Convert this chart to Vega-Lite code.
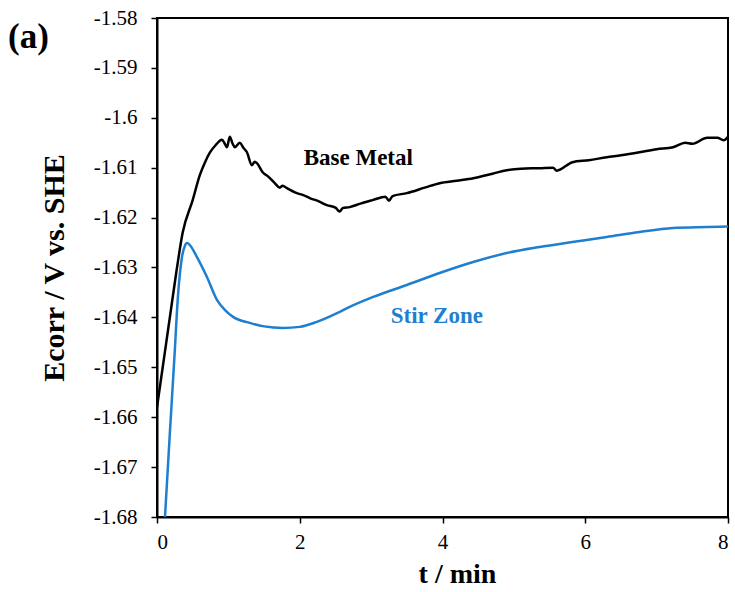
{
  "$schema": "https://vega.github.io/schema/vega-lite/v6.json",
  "autosize": "none",
  "width": 571,
  "height": 499,
  "padding": {"left": 157, "top": 18, "right": 7, "bottom": 75},
  "background": "white",
  "title": {"text": "(a)", "anchor": "start", "frame": "group", "orient": "top", "dx": -149, "dy": 52, "font": "'Liberation Serif', 'Times New Roman', serif", "fontSize": 35, "fontWeight": "bold", "color": "black"},
  "config": {
    "font": "'Liberation Serif', 'Times New Roman', serif",
    "view": {"stroke": "black", "strokeWidth": 2},
    "axis": {"labelFont": "'Liberation Serif', 'Times New Roman', serif", "labelFontSize": 21, "labelColor": "black", "titleFont": "'Liberation Serif', 'Times New Roman', serif", "titleFontWeight": "bold", "titleFontSize": 28, "titleColor": "black", "domainColor": "black", "domainWidth": 2, "tickColor": "black", "tickWidth": 1.5, "tickSize": 6, "grid": false}
  },
  "datasets": {
    "curves": [
      {"t": 0, "E": -1.658, "series": "Base Metal"},
      {"t": 0.04, "E": -1.654, "series": "Base Metal"},
      {"t": 0.08, "E": -1.650, "series": "Base Metal"},
      {"t": 0.13, "E": -1.645, "series": "Base Metal"},
      {"t": 0.18, "E": -1.640, "series": "Base Metal"},
      {"t": 0.27, "E": -1.631, "series": "Base Metal"},
      {"t": 0.36, "E": -1.623, "series": "Base Metal"},
      {"t": 0.50, "E": -1.6165, "series": "Base Metal"},
      {"t": 0.60, "E": -1.6115, "series": "Base Metal"},
      {"t": 0.67, "E": -1.609, "series": "Base Metal"},
      {"t": 0.74, "E": -1.607, "series": "Base Metal"},
      {"t": 0.82, "E": -1.6055, "series": "Base Metal"},
      {"t": 0.91, "E": -1.6044, "series": "Base Metal"},
      {"t": 0.95, "E": -1.6052, "series": "Base Metal"},
      {"t": 0.98, "E": -1.6059, "series": "Base Metal"},
      {"t": 1.02, "E": -1.6038, "series": "Base Metal"},
      {"t": 1.06, "E": -1.6052, "series": "Base Metal"},
      {"t": 1.09, "E": -1.6059, "series": "Base Metal"},
      {"t": 1.16, "E": -1.605, "series": "Base Metal"},
      {"t": 1.21, "E": -1.606, "series": "Base Metal"},
      {"t": 1.26, "E": -1.6069, "series": "Base Metal"},
      {"t": 1.33, "E": -1.6095, "series": "Base Metal"},
      {"t": 1.37, "E": -1.6088, "series": "Base Metal"},
      {"t": 1.40, "E": -1.6091, "series": "Base Metal"},
      {"t": 1.48, "E": -1.6109, "series": "Base Metal"},
      {"t": 1.56, "E": -1.6118, "series": "Base Metal"},
      {"t": 1.65, "E": -1.6131, "series": "Base Metal"},
      {"t": 1.72, "E": -1.614, "series": "Base Metal"},
      {"t": 1.76, "E": -1.6136, "series": "Base Metal"},
      {"t": 1.82, "E": -1.6141, "series": "Base Metal"},
      {"t": 1.96, "E": -1.6151, "series": "Base Metal"},
      {"t": 2.05, "E": -1.6155, "series": "Base Metal"},
      {"t": 2.14, "E": -1.6161, "series": "Base Metal"},
      {"t": 2.26, "E": -1.6167, "series": "Base Metal"},
      {"t": 2.38, "E": -1.6175, "series": "Base Metal"},
      {"t": 2.50, "E": -1.618, "series": "Base Metal"},
      {"t": 2.56, "E": -1.6188, "series": "Base Metal"},
      {"t": 2.60, "E": -1.6181, "series": "Base Metal"},
      {"t": 2.70, "E": -1.6179, "series": "Base Metal"},
      {"t": 2.85, "E": -1.6172, "series": "Base Metal"},
      {"t": 3.02, "E": -1.6165, "series": "Base Metal"},
      {"t": 3.20, "E": -1.6158, "series": "Base Metal"},
      {"t": 3.25, "E": -1.6166, "series": "Base Metal"},
      {"t": 3.30, "E": -1.6157, "series": "Base Metal"},
      {"t": 3.50, "E": -1.6151, "series": "Base Metal"},
      {"t": 3.75, "E": -1.614, "series": "Base Metal"},
      {"t": 3.96, "E": -1.6131, "series": "Base Metal"},
      {"t": 4.20, "E": -1.6126, "series": "Base Metal"},
      {"t": 4.43, "E": -1.6121, "series": "Base Metal"},
      {"t": 4.70, "E": -1.6112, "series": "Base Metal"},
      {"t": 4.90, "E": -1.6105, "series": "Base Metal"},
      {"t": 5.10, "E": -1.6102, "series": "Base Metal"},
      {"t": 5.36, "E": -1.6101, "series": "Base Metal"},
      {"t": 5.55, "E": -1.61, "series": "Base Metal"},
      {"t": 5.60, "E": -1.6106, "series": "Base Metal"},
      {"t": 5.82, "E": -1.6089, "series": "Base Metal"},
      {"t": 6.05, "E": -1.6085, "series": "Base Metal"},
      {"t": 6.30, "E": -1.6079, "series": "Base Metal"},
      {"t": 6.50, "E": -1.6075, "series": "Base Metal"},
      {"t": 6.76, "E": -1.6069, "series": "Base Metal"},
      {"t": 7.00, "E": -1.6063, "series": "Base Metal"},
      {"t": 7.23, "E": -1.6059, "series": "Base Metal"},
      {"t": 7.40, "E": -1.605, "series": "Base Metal"},
      {"t": 7.50, "E": -1.6052, "series": "Base Metal"},
      {"t": 7.71, "E": -1.604, "series": "Base Metal"},
      {"t": 7.85, "E": -1.604, "series": "Base Metal"},
      {"t": 7.94, "E": -1.6045, "series": "Base Metal"},
      {"t": 8.0, "E": -1.6038, "series": "Base Metal"},
      {"t": 0.112, "E": -1.68, "series": "Stir Zone"},
      {"t": 0.18, "E": -1.6632, "series": "Stir Zone"},
      {"t": 0.25, "E": -1.6465, "series": "Stir Zone"},
      {"t": 0.29, "E": -1.6365, "series": "Stir Zone"},
      {"t": 0.35, "E": -1.6279, "series": "Stir Zone"},
      {"t": 0.39, "E": -1.6257, "series": "Stir Zone"},
      {"t": 0.42, "E": -1.6251, "series": "Stir Zone"},
      {"t": 0.46, "E": -1.6255, "series": "Stir Zone"},
      {"t": 0.56, "E": -1.6279, "series": "Stir Zone"},
      {"t": 0.70, "E": -1.6319, "series": "Stir Zone"},
      {"t": 0.84, "E": -1.6365, "series": "Stir Zone"},
      {"t": 0.95, "E": -1.6385, "series": "Stir Zone"},
      {"t": 1.065, "E": -1.6399, "series": "Stir Zone"},
      {"t": 1.30, "E": -1.6411, "series": "Stir Zone"},
      {"t": 1.50, "E": -1.6418, "series": "Stir Zone"},
      {"t": 1.765, "E": -1.6421, "series": "Stir Zone"},
      {"t": 2.00, "E": -1.6419, "series": "Stir Zone"},
      {"t": 2.24, "E": -1.6409, "series": "Stir Zone"},
      {"t": 2.56, "E": -1.6389, "series": "Stir Zone"},
      {"t": 2.70, "E": -1.6379, "series": "Stir Zone"},
      {"t": 3.03, "E": -1.6359, "series": "Stir Zone"},
      {"t": 3.50, "E": -1.6335, "series": "Stir Zone"},
      {"t": 3.96, "E": -1.6311, "series": "Stir Zone"},
      {"t": 4.43, "E": -1.6289, "series": "Stir Zone"},
      {"t": 4.90, "E": -1.6271, "series": "Stir Zone"},
      {"t": 5.36, "E": -1.6259, "series": "Stir Zone"},
      {"t": 5.82, "E": -1.6249, "series": "Stir Zone"},
      {"t": 6.30, "E": -1.6239, "series": "Stir Zone"},
      {"t": 6.76, "E": -1.6229, "series": "Stir Zone"},
      {"t": 7.23, "E": -1.6221, "series": "Stir Zone"},
      {"t": 7.71, "E": -1.6219, "series": "Stir Zone"},
      {"t": 8.0, "E": -1.6218, "series": "Stir Zone"}
    ],
    "labels": [
      {"t": 2.82, "E": -1.6081, "series": "Base Metal", "label": "Base Metal"},
      {"t": 3.92, "E": -1.6397, "series": "Stir Zone", "label": "Stir Zone"}
    ]
  },
  "layer": [
    {
      "data": {"name": "curves"},
      "mark": {"type": "line", "strokeWidth": 2.5, "clip": true, "interpolate": "monotone"},
      "encoding": {
        "x": {"field": "t", "type": "quantitative", "scale": {"domain": [0, 8], "nice": false}, "axis": {"title": "t / min", "values": [0, 2, 4, 6, 8], "format": "d", "labelPadding": 8, "titlePadding": 8, "titleX": 300}},
        "y": {"field": "E", "type": "quantitative", "scale": {"domain": [-1.68, -1.58], "nice": false, "zero": false}, "axis": {"title": "Ecorr / V vs. SHE", "titleFontSize": 30, "values": [-1.68, -1.67, -1.66, -1.65, -1.64, -1.63, -1.62, -1.61, -1.6, -1.59, -1.58], "labelExpr": "replace(format(datum.value, '.2~f'), '\u2212', '-')", "labelPadding": 14, "titlePadding": 24}},
        "color": {"field": "series", "type": "nominal", "scale": {"domain": ["Base Metal", "Stir Zone"], "range": ["#000000", "#1f7fcf"]}, "legend": null},
        "order": {"field": "t", "type": "quantitative"}
      }
    },
    {
      "data": {"name": "labels"},
      "mark": {"type": "text", "font": "'Liberation Serif', 'Times New Roman', serif", "fontSize": 23, "fontWeight": "bold", "align": "center", "baseline": "middle"},
      "encoding": {
        "x": {"field": "t", "type": "quantitative"},
        "y": {"field": "E", "type": "quantitative"},
        "text": {"field": "label"},
        "color": {"field": "series", "type": "nominal", "scale": {"domain": ["Base Metal", "Stir Zone"], "range": ["#000000", "#1f7fcf"]}, "legend": null}
      }
    }
  ]
}
